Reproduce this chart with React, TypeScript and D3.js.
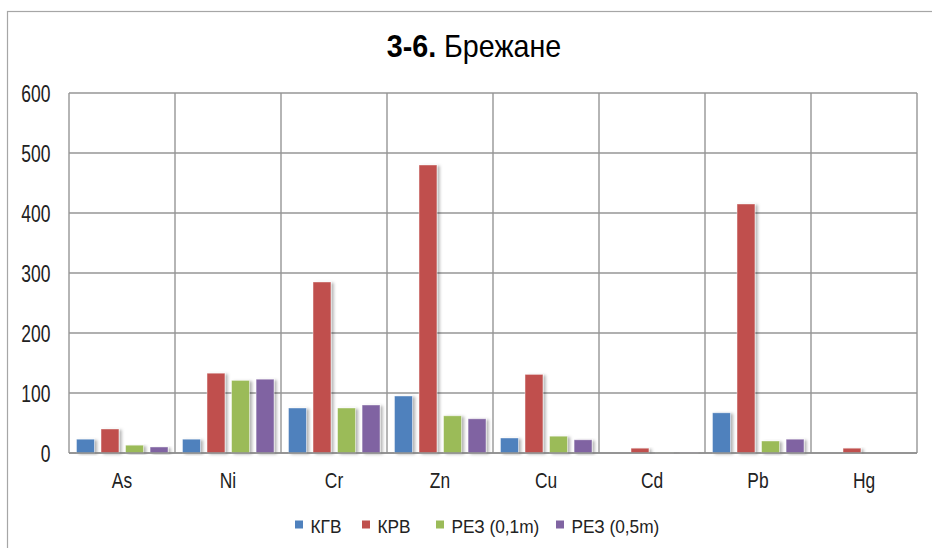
import React from "react";
import * as d3 from "d3";

const categories = ["As", "Ni", "Cr", "Zn", "Cu", "Cd", "Pb", "Hg"];
const seriesNames = ["КГВ", "КРВ", "РЕЗ (0,1m)", "РЕЗ (0,5m)"];
const kgv = [23, 23, 75, 95, 25, 0, 67, 0];
const krv = [40, 133, 285, 480, 131, 8, 415, 8];
const rez01 = [13, 121, 75, 62, 28, 0.3, 20, 0];
const rez05 = [10, 123, 80, 57, 22, 0.3, 23, 0];
const yTicks = [0, 100, 200, 300, 400, 500, 600];
const colors = ["#4F81BD", "#C0504D", "#9BBB59", "#8064A2"];

const seriesValues = [kgv, krv, rez01, rez05];

export default function App() {
  const W = 932, H = 548;
  const left = 69, right = 917, top = 93, bottom = 453;
  const x = d3.scaleBand<string>().domain(categories).range([left, right]).padding(0);
  const xi = d3.scaleBand<string>().domain(seriesNames).range([7.5, 99]).paddingInner(0.27).paddingOuter(0);
  const y = d3.scaleLinear().domain([0, 600]).range([bottom, top]);
  const font = "'Liberation Sans', Arial, sans-serif";

  const legendX = [295, 362, 436, 556];

  return (
    <svg width={W} height={H} style={{ position: "absolute", left: 0, top: 0, background: "#fff" }}>
      <defs>
        <filter id="sh" x="-30%" y="-10%" width="180%" height="130%">
          <feDropShadow dx="2.5" dy="1" stdDeviation="1.8" floodColor="#000" floodOpacity="0.3" />
        </filter>
      </defs>
      <rect x={0} y={0} width={W} height={H} fill="#fff" />
      <rect x={7.5} y={11.5} width={960} height={560} fill="#fff" stroke="#a6a6a6" strokeWidth={1.2} />
      <text transform="translate(474,57.3) scale(0.94,1)" textAnchor="middle" fontFamily={font} fontSize={30.5} fill="#000">
        <tspan fontWeight="bold">3-6.</tspan>
        <tspan> Брежане</tspan>
      </text>
      {/* horizontal gridlines */}
      {yTicks.map((t) => (
        <line key={"g" + t} x1={left} x2={right} y1={y(t)} y2={y(t)} stroke="#969696" strokeWidth={1.4} />
      ))}
      {/* vertical gridlines */}
      {categories.map((c) => (
        <line key={"v" + c} x1={x(c)!} x2={x(c)!} y1={top} y2={bottom} stroke="#969696" strokeWidth={1.4} />
      ))}
      <line x1={right} x2={right} y1={top} y2={bottom} stroke="#969696" strokeWidth={1.4} />
      {/* bars */}
      {categories.map((c, ci) => (
        <g key={"b" + c} transform={`translate(${x(c)},0)`}>
          {seriesNames.map((s, si) => {
            const v = seriesValues[si][ci];
            if (v <= 0) return null;
            return (
              <rect
                key={s}
                x={xi(s)!}
                y={y(v)}
                width={xi.bandwidth()}
                height={bottom - y(v)}
                fill={colors[si]}
                stroke="#ffffff"
                strokeOpacity={0.5}
                strokeWidth={0.8}
                filter="url(#sh)"
              />
            );
          })}
        </g>
      ))}
      <line x1={left} x2={right} y1={bottom} y2={bottom} stroke="#8c8c8c" strokeWidth={1.6} />
      {/* y tick labels */}
      {yTicks.map((t) => (
        <text key={"t" + t} transform={`translate(50.5,${y(t) + 8.5}) scale(0.76,1)`} textAnchor="end" fontFamily={font} fontSize={23} fill="#222">
          {t}
        </text>
      ))}
      {/* category labels */}
      {categories.map((c) => (
        <text key={"c" + c} transform={`translate(${x(c)! + x.bandwidth() / 2},487.7) scale(0.78,1)`} textAnchor="middle" fontFamily={font} fontSize={22.3} fill="#222">
          {c}
        </text>
      ))}
      {/* legend */}
      {seriesNames.map((s, i) => (
        <g key={"l" + s}>
          <rect x={legendX[i]} y={520.5} width={8} height={8} fill={colors[i]} />
          <text transform={`translate(${legendX[i] + 15.5},533) scale(0.95,1)`} fontFamily={font} fontSize={18.2} fill="#222">
            {s}
          </text>
        </g>
      ))}
    </svg>
  );
}
